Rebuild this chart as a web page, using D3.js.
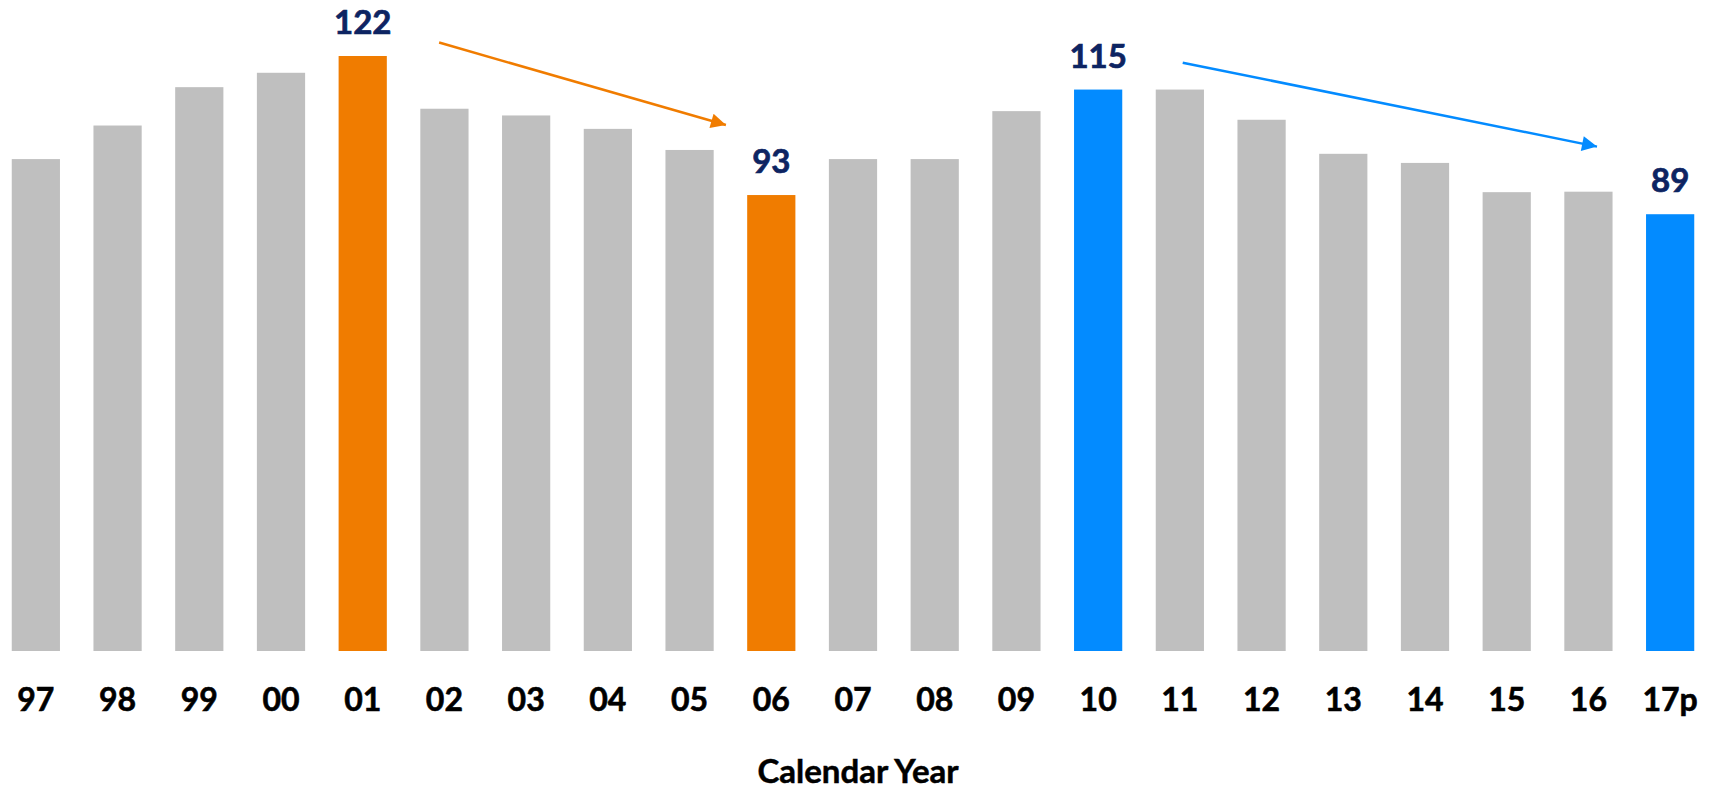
<!DOCTYPE html>
<html>
<head>
<meta charset="utf-8">
<script src="https://cdn.jsdelivr.net/npm/d3@7"></script>
<style>
  html, body { margin: 0; padding: 0; background: #ffffff; }
  svg { display: block; }
  text { font-family: Lato, "Open Sans", sans-serif; font-weight: 700; }
</style>
</head>
<body>
<svg id="chart" width="1711" height="789"></svg>
<script>
// Calendar years on the x axis
const years = ["97","98","99","00","01","02","03","04","05","06","07","08","09","10","11","12","13","14","15","16","17p"];
// Yearly values
const values = [100.5,107.5,115.5,118.5,122,111,109.6,106.8,102.4,93,100.5,100.5,110.5,115,115,108.7,101.6,99.7,93.6,93.7,89];
// Highlighted years and their colours
const highlightYears = ["01","06","10","17p"];
const highlightColors = ["#f07c00","#f07c00","#038bff","#038bff"];
// Years that carry a value label
const labelledYears = ["01","06","10","17p"];
// Trend arrows: start/end year, offset in steps from the bar's left edge, and value level
const arrowFrom = ["01","10"];
const arrowFromOffset = [1.23, 1.33];
const arrowFromValue = [124.8, 120.6];
const arrowTo = ["06","17p"];
const arrowToOffset = [-0.26, -0.6];
const arrowToValue = [107.6, 103.1];
const arrowColors = ["#f07c00","#038bff"];

const svg = d3.select("#chart");

const x = d3.scaleBand()
  .domain(years)
  .range([-5, 1711])
  .paddingInner(0.41)
  .paddingOuter(0.205);

const y = d3.scaleLinear()
  .domain([-2.1, 122])
  .range([651, 56]);

const colorOf = yr => {
  const i = highlightYears.indexOf(yr);
  return i >= 0 ? highlightColors[i] : "#bfbfbf";
};

// bars
svg.append("g")
  .selectAll("rect")
  .data(years.map((yr, i) => ({ yr, v: values[i] })))
  .join("rect")
  .attr("x", d => x(d.yr))
  .attr("width", x.bandwidth())
  .attr("y", d => y(d.v))
  .attr("height", d => y.range()[0] - y(d.v))
  .attr("fill", d => colorOf(d.yr));

// value labels above highlighted bars
svg.append("g")
  .selectAll("text")
  .data(labelledYears.map(yr => ({ yr, v: values[years.indexOf(yr)] })))
  .join("text")
  .attr("x", d => x(d.yr) + x.bandwidth() / 2)
  .attr("y", d => y(d.v) - 22)
  .attr("text-anchor", "middle")
  .attr("font-size", 33)
  .attr("fill", "#0d2462")
  .attr("stroke", "#0d2462")
  .attr("stroke-width", 0.7)
  .text(d => d3.format("d")(d.v));

// x axis
const axis = svg.append("g")
  .attr("transform", `translate(0,${y.range()[0]})`)
  .call(d3.axisBottom(x).tickSize(0));
axis.select(".domain").remove();
axis.selectAll("text")
  .attr("y", 60)
  .attr("dy", 0)
  .attr("font-size", 32)
  .attr("font-family", "Lato, 'Open Sans', sans-serif")
  .attr("font-weight", 700)
  .attr("fill", "#000")
  .attr("stroke", "#000")
  .attr("stroke-width", 0.6);

// axis title
svg.append("text")
  .attr("x", 858)
  .attr("y", 783)
  .attr("text-anchor", "middle")
  .attr("font-size", 33)
  .attr("fill", "#000")
  .attr("stroke", "#000")
  .attr("stroke-width", 0.5)
  .text("Calendar Year");

// arrow markers
const defs = svg.append("defs");
arrowColors.forEach((c, i) => {
  defs.append("marker")
    .attr("id", "head" + i)
    .attr("viewBox", "0 0 10 10")
    .attr("refX", 10)
    .attr("refY", 5)
    .attr("markerUnits", "userSpaceOnUse")
    .attr("markerWidth", 18)
    .attr("markerHeight", 15)
    .attr("orient", "auto")
    .append("path")
    .attr("d", "M0,0 L10,5 L0,10 Z")
    .attr("fill", c);
});

// trend arrows
svg.append("g")
  .selectAll("line")
  .data(arrowFrom.map((f, i) => ({ i })))
  .join("line")
  .attr("x1", d => x(arrowFrom[d.i]) + arrowFromOffset[d.i] * x.step())
  .attr("y1", d => y(arrowFromValue[d.i]))
  .attr("x2", d => x(arrowTo[d.i]) + arrowToOffset[d.i] * x.step())
  .attr("y2", d => y(arrowToValue[d.i]))
  .attr("stroke", d => arrowColors[d.i])
  .attr("stroke-width", 2.5)
  .attr("marker-end", d => `url(#head${d.i})`);
</script>
</body>
</html>
